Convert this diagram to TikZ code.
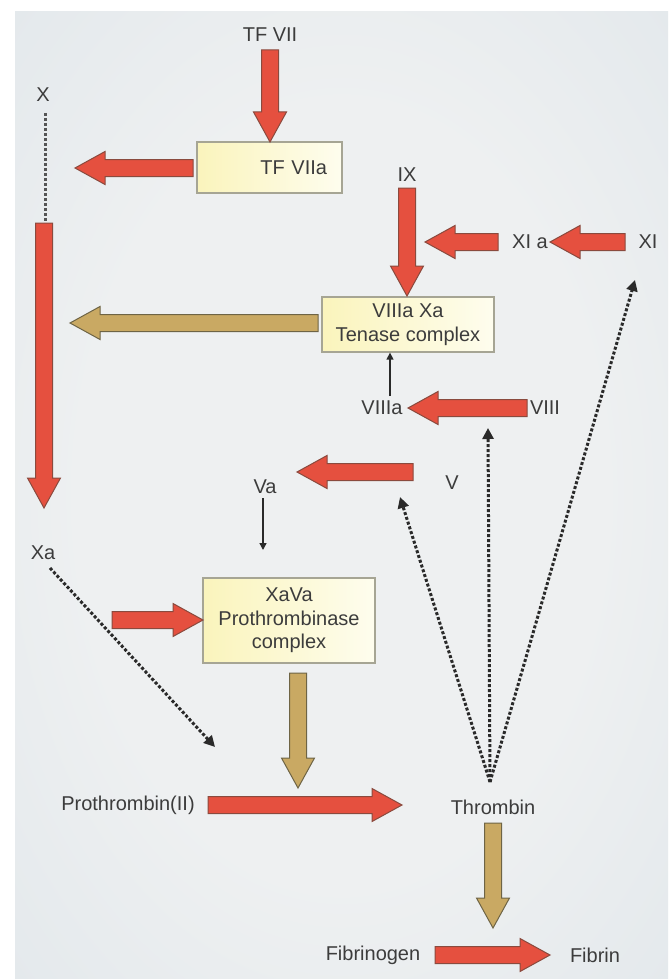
\documentclass[tikz,border=0pt]{standalone}
\usepackage{fontspec}
\setmainfont{Liberation Sans}
\usetikzlibrary{calc,arrows.meta}
\definecolor{bgedge}{HTML}{D3DDE4}
\definecolor{bgmid}{HTML}{EEF0F1}
\definecolor{redf}{HTML}{E5503F}
\definecolor{redd}{HTML}{8A4A3E}
\definecolor{tanf}{HTML}{C9A963}
\definecolor{tand}{HTML}{6E6445}
\definecolor{boxl}{HTML}{FAF4BC}
\definecolor{boxr}{HTML}{FEFDEE}
\definecolor{boxd}{HTML}{A6A594}
\definecolor{txt}{HTML}{3C3C3C}
\definecolor{dotc}{HTML}{2A2A2A}
\pgfdeclareradialshading{panelshade}{\pgfpoint{0bp}{0bp}}{color(0bp)=(bgmid); color(20bp)=(bgmid); color(45bp)=(bgedge!60!bgmid); color(71bp)=(bgedge)}
\tikzset{
  fatarrow/.style={line width=1pt, line join=miter,
    to path={let \p1=($(\tikztotarget)!30pt!(\tikztostart)$) in
      ($(\tikztostart)!8.5pt!90:(\tikztotarget)$) -- ($(\p1)!8.5pt!90:(\tikztotarget)$)
      -- ($(\p1)!16.5pt!90:(\tikztotarget)$) -- (\tikztotarget)
      -- ($(\p1)!16.5pt!-90:(\tikztotarget)$) -- ($(\p1)!8.5pt!-90:(\tikztotarget)$)
      -- ($(\tikztostart)!8.5pt!-90:(\tikztotarget)$) -- cycle}},
  redarrow/.style={fatarrow, fill=redf, draw=redd},
  tanarrow/.style={fatarrow, fill=tanf, draw=tand},
  lbl/.style={text=txt, font=\fontsize{20}{23.5}\selectfont, inner sep=0pt},
  cbox/.style={lbl, draw=boxd, line width=1.3pt, left color=boxl, right color=boxr, align=center},
  dotarrow/.style={draw=dotc, line width=3pt, dash pattern=on 3pt off 2pt,
    -{Triangle[width=11pt,length=11pt]}},
  dotline/.style={draw=dotc!80!white, line width=3pt, dash pattern=on 3pt off 2pt},
  thinarrow/.style={draw=dotc, line width=1.4pt, -{Triangle[width=7pt,length=7pt]}}
}
\begin{document}
\begin{tikzpicture}[x=1pt,y=-1pt]
\useasboundingbox (0,0) rectangle (671,979);
\fill[white] (0,0) rectangle (671,979);
\shade[shading=panelshade] (15,12) rectangle (668,979);

% labels
\node[lbl] (tfvii) at (270,35) {TF VII};
\node[lbl] (x) at (43,95) {X};
\node[lbl] (xa) at (43,553) {Xa};
\node[lbl] (ix) at (407,175) {IX};
\node[lbl] (xia) at (530,242) {XI a};
\node[lbl] (xi) at (648,242) {XI};
\node[lbl] (viiia) at (382,408) {VIIIa};
\node[lbl] (viii) at (545,408) {VIII};
\node[lbl] (va) at (265,487) {Va};
\node[lbl] (v) at (452,483) {V};
\node[lbl] (prothrombin) at (128,805) {Prothrombin(II)};
\node[lbl] (thrombin) at (493,807) {Thrombin};
\node[lbl] (fibrinogen) at (373,955) {Fibrinogen};
\node[lbl] (fibrin) at (595,955) {Fibrin};

% boxes
\node[cbox, text width=115pt, inner xsep=15pt, inner ysep=0pt, minimum height=51pt, align=right] (tfviia) at (269.5,167.5) {TF VIIa};
\node[cbox, minimum width=172pt, minimum height=55pt] (tenase) at (408,324.5) {VIIIa Xa\\Tenase complex};
\node[cbox, minimum width=172pt, minimum height=85pt] (xava) at (289,620.5) {XaVa\\Prothrombinase\\complex};

% coordinates
\coordinate (a1s) at (270,50);
\coordinate (a1e) at (270,142);
\coordinate (a2s) at (193,168);
\coordinate (a2e) at (75,168);
\coordinate (d1s) at (45,113);
\coordinate (d1e) at (45,222);
\coordinate (a3s) at (44,223);
\coordinate (a3e) at (44,508);
\coordinate (a4s) at (407,188);
\coordinate (a4e) at (407,296);
\coordinate (a5s) at (625,242);
\coordinate (a5e) at (550,242);
\coordinate (a6s) at (498,242);
\coordinate (a6e) at (425,242);
\coordinate (a7s) at (318,323);
\coordinate (a7e) at (70,323);
\coordinate (a8s) at (527,408);
\coordinate (a8e) at (408,408);
\coordinate (t1s) at (390,396);
\coordinate (a9s) at (413,472);
\coordinate (a9e) at (297,472);
\coordinate (t2s) at (263,498);
\coordinate (t2e) at (263,550);
\coordinate (a10s) at (112,620);
\coordinate (a10e) at (203,620);
\coordinate (a11s) at (298,673);
\coordinate (a11e) at (298,788);
\coordinate (a12s) at (208,805);
\coordinate (a12e) at (402,805);
\coordinate (d2s) at (50,568);
\coordinate (d2e) at (215,747);
\coordinate (hub) at (490,782);
\coordinate (dv) at (400,497);
\coordinate (dviii) at (488,428);
\coordinate (dxi) at (635,280);
\coordinate (a13s) at (493,823);
\coordinate (a13e) at (493,928);
\coordinate (a14s) at (435,955);
\coordinate (a14e) at (550,955);

% block arrows
\draw[redarrow] (a1s) to (a1e);
\draw[redarrow] (a2s) to (a2e);
\draw[redarrow] (a3s) to (a3e);
\draw[redarrow] (a4s) to (a4e);
\draw[redarrow] (a5s) to (a5e);
\draw[redarrow] (a6s) to (a6e);
\draw[tanarrow] (a7s) to (a7e);
\draw[redarrow] (a8s) to (a8e);
\draw[redarrow] (a9s) to (a9e);
\draw[redarrow] (a10s) to (a10e);
\draw[tanarrow] (a11s) to (a11e);
\draw[redarrow] (a12s) to (a12e);
\draw[tanarrow] (a13s) to (a13e);
\draw[redarrow] (a14s) to (a14e);

% thin arrows
\draw[thinarrow] (t1s) -- (tenase.south -| t1s);
\draw[thinarrow] (t2s) -- (t2e);

% dotted
\draw[dotline] (d1s) -- (d1e);
\draw[dotarrow] (d2s) -- (d2e);
\draw[dotarrow] (hub) -- (dv);
\draw[dotarrow] (hub) -- (dviii);
\draw[dotarrow] (hub) -- (dxi);
\end{tikzpicture}
\end{document}
